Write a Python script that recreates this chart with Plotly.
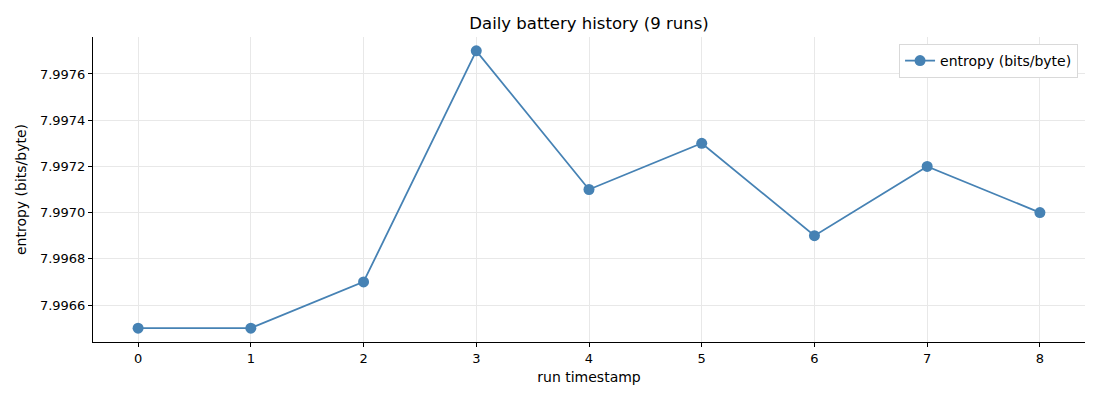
import plotly.graph_objects as go

# run index and entropy values
runs = [0, 1, 2, 3, 4, 5, 6, 7, 8]
entropy = [7.9965, 7.9965, 7.9967, 7.9977, 7.9971, 7.9973, 7.9969, 7.9972, 7.9970]
y_ticks = [7.9966, 7.9968, 7.9970, 7.9972, 7.9974, 7.9976]

font = "DejaVu Sans, sans-serif"

fig = go.Figure()
fig.add_trace(go.Scatter(
    x=runs, y=entropy,
    mode="lines+markers",
    name="entropy (bits/byte)",
    line=dict(color="#4682b4", width=1.8),
    marker=dict(color="#4682b4", size=11),
))

# page body adds ~8px offset, margins compensate
fig.update_layout(
    width=1100, height=400,
    paper_bgcolor="white", plot_bgcolor="white",
    font=dict(family=font, size=13, color="black"),
    margin=dict(l=85, r=23, t=29, b=66),
    title=dict(text="Daily battery history (9 runs)", x=0.5, xref="paper", xanchor="center",
               y=1 - 15 / 400, yanchor="middle", font=dict(size=16.5)),
    showlegend=True,
    legend=dict(x=0.993, y=0.977, xanchor="right", yanchor="top",
                bgcolor="white", bordercolor="#d9d9d9", borderwidth=1,
                font=dict(size=14)),
)

fig.update_xaxes(
    range=[-0.4, 8.4], tickmode="array", tickvals=runs,
    showgrid=True, gridcolor="#e8e8e8", gridwidth=1,
    showline=True, linecolor="black", linewidth=1,
    ticks="outside", ticklen=4, tickcolor="black",
    zeroline=False,
    title=dict(text="run timestamp", standoff=7, font=dict(size=14)),
)
fig.update_yaxes(
    range=[7.99644, 7.99776], tickmode="array", tickvals=y_ticks,
    tickformat=".4f",
    showgrid=True, gridcolor="#e8e8e8", gridwidth=1,
    showline=True, linecolor="black", linewidth=1,
    ticks="outside", ticklen=4, tickcolor="black",
    zeroline=False,
    title=dict(text="entropy (bits/byte)", standoff=10, font=dict(size=14)),
)

fig.write_html("out.html")
